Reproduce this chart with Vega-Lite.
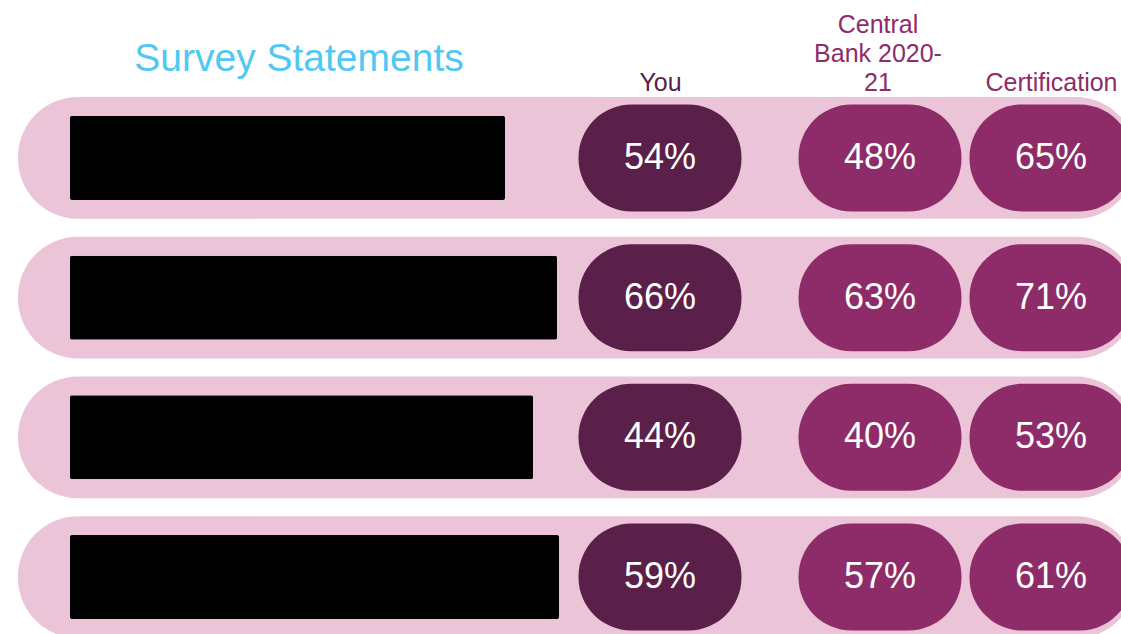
{
  "$schema": "https://vega.github.io/schema/vega-lite/v6.json",
  "width": 1118,
  "height": 537,
  "autosize": {"type": "none"},
  "padding": {"top": 97, "left": 18, "right": -15, "bottom": 0},
  "background": "white",
  "config": {"view": {"stroke": null}, "font": "Liberation Sans"},
  "datasets": {
    "statements": [
      {"statement": "Statement 1 (redacted)", "redacted_len": 435},
      {"statement": "Statement 2 (redacted)", "redacted_len": 487},
      {"statement": "Statement 3 (redacted)", "redacted_len": 463},
      {"statement": "Statement 4 (redacted)", "redacted_len": 489}
    ],
    "results": [
      {"statement": "Statement 1 (redacted)", "group": "You", "value": 0.54},
      {"statement": "Statement 1 (redacted)", "group": "Central Bank 2020-21", "value": 0.48},
      {"statement": "Statement 1 (redacted)", "group": "Certification", "value": 0.65},
      {"statement": "Statement 2 (redacted)", "group": "You", "value": 0.66},
      {"statement": "Statement 2 (redacted)", "group": "Central Bank 2020-21", "value": 0.63},
      {"statement": "Statement 2 (redacted)", "group": "Certification", "value": 0.71},
      {"statement": "Statement 3 (redacted)", "group": "You", "value": 0.44},
      {"statement": "Statement 3 (redacted)", "group": "Central Bank 2020-21", "value": 0.40},
      {"statement": "Statement 3 (redacted)", "group": "Certification", "value": 0.53},
      {"statement": "Statement 4 (redacted)", "group": "You", "value": 0.59},
      {"statement": "Statement 4 (redacted)", "group": "Central Bank 2020-21", "value": 0.57},
      {"statement": "Statement 4 (redacted)", "group": "Certification", "value": 0.61}
    ]
  },
  "layer": [
    {
      "data": {"name": "statements"},
      "mark": {"type": "bar", "color": "#ECC4D8", "cornerRadius": 60},
      "encoding": {
        "y": {"field": "statement", "type": "nominal", "sort": null,
              "scale": {"domain": ["Statement 1 (redacted)", "Statement 2 (redacted)", "Statement 3 (redacted)", "Statement 4 (redacted)"], "range": [0, 541], "paddingInner": 0.1286, "paddingOuter": 0},
              "axis": null}
      }
    },
    {
      "data": {"name": "statements"},
      "mark": {"type": "bar", "color": "#000000", "height": 84, "cornerRadius": 2},
      "encoding": {
        "y": {"field": "statement", "type": "nominal", "sort": null,
              "scale": {"domain": ["Statement 1 (redacted)", "Statement 2 (redacted)", "Statement 3 (redacted)", "Statement 4 (redacted)"], "range": [0, 541], "paddingInner": 0.1286, "paddingOuter": 0},
              "axis": null},
        "x": {"field": "redacted_len", "type": "quantitative",
              "scale": {"domain": [-52, 1066], "zero": false, "nice": false},
              "axis": null}
      }
    },
    {
      "data": {"name": "results"},
      "encoding": {
        "y": {"field": "statement", "type": "nominal", "sort": null,
              "scale": {"domain": ["Statement 1 (redacted)", "Statement 2 (redacted)", "Statement 3 (redacted)", "Statement 4 (redacted)"], "range": [0, 541], "paddingInner": 0.1286, "paddingOuter": 0},
              "axis": null},
        "x": {"field": "group", "type": "nominal", "sort": null,
              "scale": {"type": "point", "domain": ["You", "Central Bank 2020-21", "Certification"], "range": [642, 1033], "padding": 0},
              "axis": {
                "orient": "top", "domain": false, "ticks": false, "grid": false,
                "labelAngle": 0, "labelFont": "Liberation Sans", "labelFontSize": 25,
                "labelLineHeight": 29, "labelOverlap": false,
                "labelPadding": {"condition": {"test": "datum.value === 'Central Bank 2020-21'", "value": 60}, "value": 2},
                "labelColor": {"condition": {"test": "datum.value === 'You'", "value": "#5B2049"}, "value": "#8E2C69"},
                "labelOffset": {"condition": {"test": "datum.value === 'Central Bank 2020-21'", "value": 22}, "value": 0},
                "labelExpr": "datum.value === 'Central Bank 2020-21' ? ['Central', 'Bank 2020-', '21'] : datum.label",
                "title": "Survey Statements", "titleX": 280.5, "titleY": -27,
                "titleAlign": "center", "titleBaseline": "alphabetic", "titleAngle": 0,
                "titleFont": "Liberation Sans", "titleFontSize": 39, "titleFontWeight": "normal",
                "titleColor": "#50C8F3"
              }}
      },
      "layer": [
        {
          "mark": {"type": "bar", "width": 163, "height": 107, "cornerRadius": 53,
                   "xOffset": {"expr": "datum.group === 'Central Bank 2020-21' ? 24.5 : 0"}},
          "encoding": {
            "color": {"field": "group", "type": "nominal",
                      "scale": {"domain": ["You", "Central Bank 2020-21", "Certification"], "range": ["#5B2049", "#8E2C69", "#8E2C69"]},
                      "legend": null}
          }
        },
        {
          "mark": {"type": "text", "color": "#FFFFFF", "fontSize": 36, "font": "Liberation Sans",
                   "align": "center", "baseline": "middle",
                   "xOffset": {"expr": "datum.group === 'Central Bank 2020-21' ? 24.5 : 0"}},
          "encoding": {
            "text": {"field": "value", "type": "quantitative", "format": ".0%"}
          }
        }
      ]
    }
  ],
  "resolve": {"scale": {"x": "independent"}}
}
